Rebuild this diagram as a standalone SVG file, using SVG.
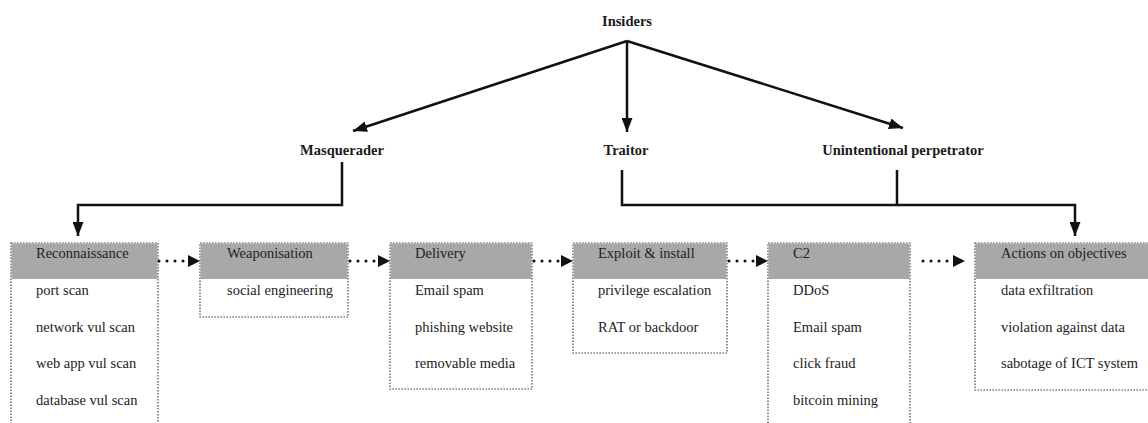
<svg xmlns="http://www.w3.org/2000/svg" width="1148" height="423" viewBox="0 0 1148 423">
  <style>
    .title { font-family: "Liberation Serif", "Times New Roman", serif; font-size: 14.5px; font-weight: bold; fill: #1a1a1a; text-anchor: middle; }
    .head { font-family: "Liberation Serif", "Times New Roman", serif; font-size: 14.5px; fill: #222; }
    .item { font-family: "Liberation Serif", "Times New Roman", serif; font-size: 14.5px; fill: #222; }
    .frame { fill: #fff; stroke: #444; stroke-width: 1.2; stroke-dasharray: 1.6 1.4; }
    .band { fill: #a8a8a8; }
    .solid { fill: none; stroke: #111; stroke-width: 2.5; }
    .dots { stroke: #111; stroke-width: 3; stroke-linecap: round; stroke-dasharray: 0 8; }
  </style>
  <defs>
    <marker id="tip" markerUnits="userSpaceOnUse" markerWidth="14" markerHeight="11" refX="14" refY="5.5" orient="auto">
      <path d="M0,0 L14,5.5 L0,11 z" fill="#111"/>
    </marker>
    <marker id="tipFlow" markerUnits="userSpaceOnUse" markerWidth="12" markerHeight="12" refX="0" refY="6" orient="auto">
      <path d="M0,0 L12,6 L0,12 z" fill="#111"/>
    </marker>
  </defs>

  <!-- actor hierarchy -->
  <g id="insiders"><text class="title" x="627" y="26">Insiders</text></g>
  <g id="masquerader"><text class="title" x="342" y="155">Masquerader</text></g>
  <g id="traitor"><text class="title" x="626" y="155">Traitor</text></g>
  <g id="unintentional"><text class="title" x="903" y="155">Unintentional perpetrator</text></g>

  <!-- kill-chain stages -->
  <g id="reconnaissance">
    <rect class="frame" x="11" y="243" width="147" height="200"/>
    <rect class="band" x="11.5" y="243.5" width="146" height="35.5"/>
    <text class="head" x="36" y="258">Reconnaissance</text>
    <text class="item" x="36" y="295">port scan</text>
    <text class="item" x="36" y="331.5">network vul scan</text>
    <text class="item" x="36" y="368">web app vul scan</text>
    <text class="item" x="36" y="404.5">database vul scan</text>
  </g>
  <g id="weaponisation">
    <rect class="frame" x="200" y="243" width="148" height="74"/>
    <rect class="band" x="200.5" y="243.5" width="147" height="35.5"/>
    <text class="head" x="227" y="258">Weaponisation</text>
    <text class="item" x="227" y="295">social engineering</text>
  </g>
  <g id="delivery">
    <rect class="frame" x="390" y="243" width="142" height="146"/>
    <rect class="band" x="390.5" y="243.5" width="141" height="35.5"/>
    <text class="head" x="415" y="258">Delivery</text>
    <text class="item" x="415" y="295">Email spam</text>
    <text class="item" x="415" y="331.5">phishing website</text>
    <text class="item" x="415" y="368">removable media</text>
  </g>
  <g id="exploit">
    <rect class="frame" x="573" y="243" width="154" height="110"/>
    <rect class="band" x="573.5" y="243.5" width="153" height="35.5"/>
    <text class="head" x="598" y="258">Exploit &amp; install</text>
    <text class="item" x="598" y="295">privilege escalation</text>
    <text class="item" x="598" y="331.5">RAT or backdoor</text>
  </g>
  <g id="c2">
    <rect class="frame" x="768" y="243" width="142" height="200"/>
    <rect class="band" x="768.5" y="243.5" width="141" height="35.5"/>
    <text class="head" x="793" y="258">C2</text>
    <text class="item" x="793" y="295">DDoS</text>
    <text class="item" x="793" y="331.5">Email spam</text>
    <text class="item" x="793" y="368">click fraud</text>
    <text class="item" x="793" y="404.5">bitcoin mining</text>
  </g>
  <g id="actions">
    <rect class="frame" x="975" y="243" width="185" height="147"/>
    <rect class="band" x="975.5" y="243.5" width="184" height="35.5"/>
    <text class="head" x="1001" y="258">Actions on objectives</text>
    <text class="item" x="1001" y="295">data exfiltration</text>
    <text class="item" x="1001" y="331.5">violation against data</text>
    <text class="item" x="1001" y="368">sabotage of ICT system</text>
  </g>

  <g id="connectors">
    <line class="solid" x1="627" y1="41" x2="353" y2="131" marker-end="url(#tip)"/>
    <line class="solid" x1="627" y1="41" x2="627" y2="132" marker-end="url(#tip)"/>
    <line class="solid" x1="627" y1="41" x2="903" y2="128" marker-end="url(#tip)"/>
    <path class="solid" d="M342,162 V205 H78 V236" marker-end="url(#tip)"/>
    <path class="solid" d="M622,170 V205 H1075 V236" marker-end="url(#tip)"/>
    <path class="solid" d="M897,170 V205"/>
    <line class="dots" x1="159" y1="261" x2="188" y2="261" marker-end="url(#tipFlow)"/>
    <line class="dots" x1="350" y1="261" x2="378" y2="261" marker-end="url(#tipFlow)"/>
    <line class="dots" x1="534" y1="261" x2="561" y2="261" marker-end="url(#tipFlow)"/>
    <line class="dots" x1="729" y1="261" x2="756" y2="261" marker-end="url(#tipFlow)"/>
    <line class="dots" x1="923" y1="261" x2="953" y2="261" marker-end="url(#tipFlow)"/>
  </g>
</svg>
